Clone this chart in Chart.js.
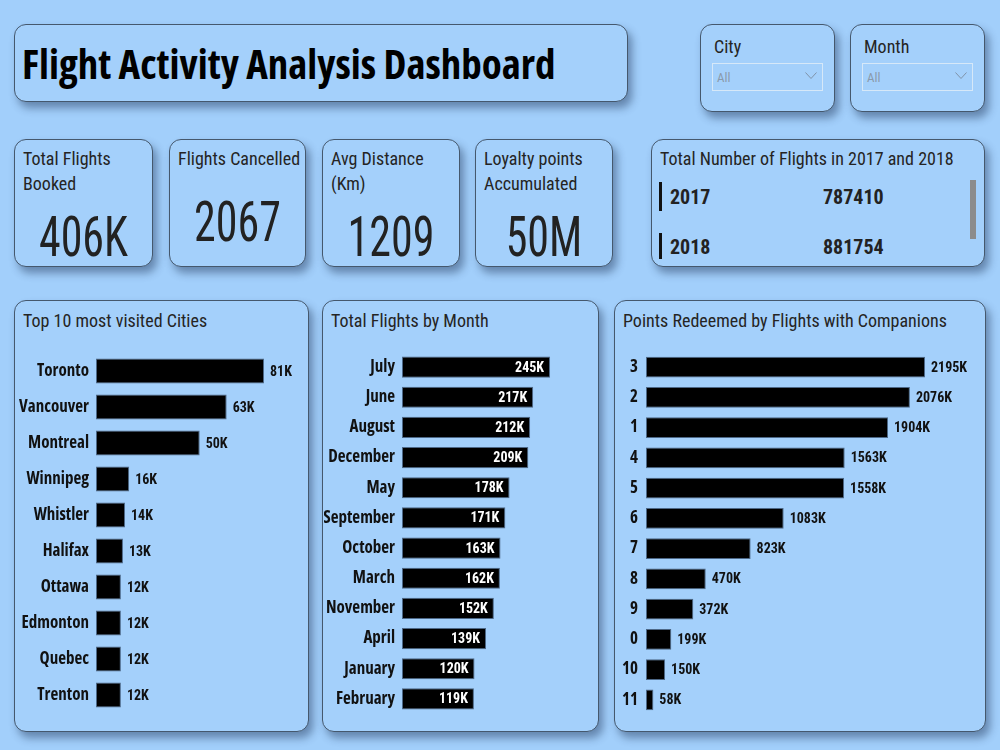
<!DOCTYPE html>
<html>
<head>
<meta charset="utf-8">
<script src="https://cdn.jsdelivr.net/npm/chart.js@4.4.0/dist/chart.umd.min.js"></script>
<style>
  html, body { margin: 0; padding: 0; }
  body { width: 1000px; height: 750px; background: #a2cffb; position: relative; overflow: hidden;
         font-family: 'Roboto Condensed', sans-serif; color: #252423; }
  .card { position: absolute; box-sizing: border-box; border: 1.5px solid #45586d; border-radius: 12px;
          background: #a4d0fb; box-shadow: 4px 6px 8px rgba(25, 45, 80, .45); }
  .ttl { position: absolute; left: 8px; top: 8px; font-size: 18px; line-height: 25px; white-space: nowrap; }
  .big { position: absolute; left: 0; right: 0; text-align: center; font-size: 55px; line-height: 55px;
         transform: scaleX(0.8); color: #222; }
  .drop { position: absolute; left: 11px; top: 38px; width: 111px; height: 28px; box-sizing: border-box;
          border: 1px solid #d6e8f8; font-family: 'Roboto Condensed', sans-serif; font-size: 13px; color: #8a9aab; }
  .drop span { position: absolute; left: 4px; top: 6px; }
  .drop svg { position: absolute; right: 5px; top: 8px; }
  .yr { position: absolute; font-weight: bold; font-size: 20px; line-height: 24px; color: #222; }
  .ind { position: absolute; left: 7px; width: 3px; background: #111; }
  canvas { position: absolute; }
</style>
</head>
<body>

<div class="card" style="left:14px;top:24px;width:614px;height:78px">
  <div id="title" style="position:absolute;left:7px;top:15px;font-family:'Open Sans';font-stretch:condensed;font-weight:bold;font-size:41px;line-height:46px;color:#000;white-space:nowrap">Flight Activity Analysis Dashboard</div>
</div>

<div class="card" style="left:700px;top:24px;width:135px;height:88px">
  <div class="ttl" style="left:13px;top:9px">City</div>
  <div class="drop"><span>All</span><svg width="12" height="8"><polyline points="0.5,0.5 6,6.5 11.5,0.5" fill="none" stroke="#7f93a8" stroke-width="1"/></svg></div>
</div>
<div class="card" style="left:850px;top:24px;width:135px;height:88px">
  <div class="ttl" style="left:13px;top:9px">Month</div>
  <div class="drop"><span>All</span><svg width="12" height="8"><polyline points="0.5,0.5 6,6.5 11.5,0.5" fill="none" stroke="#7f93a8" stroke-width="1"/></svg></div>
</div>

<div id="kpis"></div>

<div class="card" style="left:651px;top:139px;width:334px;height:128px">
  <div class="ttl" style="top:6px">Total Number of Flights in 2017 and 2018</div>
  <div id="years"></div>
  <div style="position:absolute;left:318px;top:40px;width:6px;height:59px;background:#8c8c8c"></div>
</div>

<div class="card" style="left:14px;top:300px;width:295px;height:432px">
  <div class="ttl" style="top:7px">Top 10 most visited Cities</div>
</div>
<div class="card" style="left:322px;top:300px;width:277px;height:432px">
  <div class="ttl" style="top:7px">Total Flights by Month</div>
</div>
<div class="card" style="left:614px;top:300px;width:372px;height:432px">
  <div class="ttl" style="top:7px">Points Redeemed by Flights with Companions</div>
</div>

<canvas id="cCity" width="290" height="360" style="left:16px;top:353px"></canvas>
<canvas id="cMonth" width="272" height="362" style="left:324px;top:352px"></canvas>
<canvas id="cComp" width="367" height="363" style="left:616px;top:352px"></canvas>

<script>
// ── data ─────────────────────────────────
const kpiTitles = ['Total Flights<br>Booked', 'Flights Cancelled', 'Avg Distance<br>(Km)', 'Loyalty points<br>Accumulated'];
const kpiValues = ['406K', '2067', '1209', '50M'];

const years       = ['2017', '2018'];
const yearFlights = [787410, 881754];

const cities      = ['Toronto','Vancouver','Montreal','Winnipeg','Whistler','Halifax','Ottawa','Edmonton','Quebec','Trenton'];
const cityFlights = [81000, 63000, 50000, 16000, 14000, 13000, 12000, 12000, 12000, 12000];

const months       = ['July','June','August','December','May','September','October','March','November','April','January','February'];
const monthFlights = [245000, 217000, 212000, 209000, 178000, 171000, 163000, 162000, 152000, 139000, 120000, 119000];

const companions   = ['3','2','1','4','5','6','7','8','9','0','10','11'];
const pointsRedeem = [2195000, 2076000, 1904000, 1563000, 1558000, 1083000, 823000, 470000, 372000, 199000, 150000, 58000];

// ── KPI cards ────────────────────────────
const kpiBox = [[14, 139], [169, 137], [322, 138], [475, 138]];
const kpiTop = [70, 55, 70, 70];
document.getElementById('kpis').innerHTML = kpiTitles.map((t, i) =>
  `<div class="card" style="left:${kpiBox[i][0]}px;top:139px;width:${kpiBox[i][1]}px;height:128px">
     <div class="ttl" style="top:6px">${t}</div>
     <div class="big" style="top:${kpiTop[i]}px">${kpiValues[i]}</div>
   </div>`).join('');

document.getElementById('years').innerHTML = years.map((y, i) =>
  `<div class="ind" style="top:${42 + i * 51}px;height:${i ? 26 : 29}px"></div>
   <div class="yr" style="left:18px;top:${45 + i * 50}px">${y}</div>
   <div class="yr" style="left:171px;top:${45 + i * 50}px">${yearFlights[i]}</div>`).join('');

// ── charts ───────────────────────────────
Chart.defaults.font.family = "'Open Sans', sans-serif";
Chart.defaults.color = '#111';

const valueLabels = {
  id: 'valueLabels',
  afterDatasetsDraw(chart, args, opts) {
    const { ctx } = chart;
    const vals = chart.data.datasets[0].data;
    ctx.save();
    ctx.font = "bold 14px 'Roboto Condensed', sans-serif";
    ctx.textBaseline = 'middle';
    chart.getDatasetMeta(0).data.forEach((bar, i) => {
      const txt = Math.round(vals[i] / 1000) + 'K';
      if (opts.inside) {
        ctx.fillStyle = '#fff'; ctx.textAlign = 'right';
        ctx.fillText(txt, bar.x - 6, bar.y + 1);
      } else {
        ctx.fillStyle = '#111'; ctx.textAlign = 'left';
        ctx.fillText(txt, bar.x + 6, bar.y + 1);
      }
    });
    ctx.restore();
  }
};

function barChart(id, labels, data, axisW, xMax, barPct, inside, pad) {
  return new Chart(id, {
    type: 'bar',
    data: {
      labels,
      datasets: [{
        data,
        backgroundColor: '#000',
        borderColor: 'rgba(40,60,85,.7)',
        borderWidth: 1,
        borderSkipped: false,
        categoryPercentage: 1,
        barPercentage: barPct
      }]
    },
    plugins: [valueLabels],
    options: {
      indexAxis: 'y', responsive: false, animation: false, devicePixelRatio: 1,
      layout: { padding: 0 },
      plugins: { legend: { display: false }, tooltip: { enabled: false }, valueLabels: { inside } },
      scales: {
        x: { display: false, min: 0, max: xMax },
        y: {
          grid: { display: false, drawTicks: false }, border: { display: false },
          ticks: { padding: pad, color: '#111', font: { size: 17, weight: 'bold condensed' } },
          afterFit: s => { s.width = axisW; s.paddingTop = 0; s.paddingBottom = 0; }
        }
      }
    }
  });
}

barChart('cCity',  cities,     cityFlights,  80, 101250,  0.7, false, 7);
barChart('cMonth', months,     monthFlights, 78, 321000,  0.7, true,  7);
barChart('cComp',  companions, pointsRedeem, 30, 2651000, 0.69, false, 8);
</script>
</body>
</html>
